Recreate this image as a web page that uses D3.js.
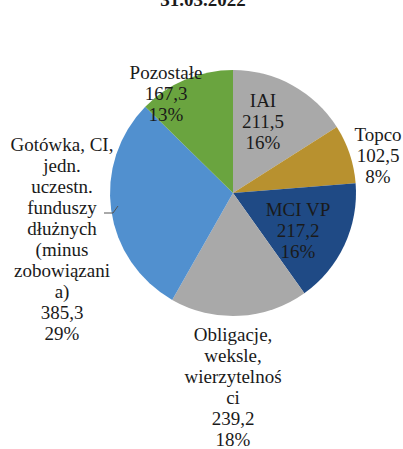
<!DOCTYPE html>
<html>
<head>
<meta charset="utf-8">
<script src="https://cdn.jsdelivr.net/npm/d3@7"></script>
<style>
  body { margin: 0; background: #fff; }
</style>
</head>
<body>
<div id="chart"></div>
<script>
// data
var title = "31.03.2022";
var categories = [
  ["IAI"],
  ["Topco"],
  ["MCI VP"],
  ["Obligacje,", "weksle,", "wierzytelnoś", "ci"],
  ["Gotówka, CI,", "jedn.", "uczestn.", "funduszy", "dłużnych", "(minus", "zobowiązani", "a)"],
  ["Pozostałe"]
];
var values = [211.5, 102.5, 217.2, 239.2, 385.3, 167.3];
var colors = ["#a9a9a9", "#b8912f", "#1f4a85", "#a9a9a9", "#5190cf", "#6aa43f"];

// label block positions relative to pie centre (first line)
var labelPos = [[30, -92], [145, -58], [65, 17], [0, 142], [-171, -48], [-67, -120]];

var width = 403, height = 449;
var cx = 233, cy = 193, radius = 123, lineH = 21;
var font = "'Liberation Serif', 'DejaVu Serif', serif";

var svg = d3.select("#chart")
  .append("svg")
    .attr("width", width)
    .attr("height", height)
    .attr("font-family", font);

svg.append("text")
  .attr("x", 203)
  .attr("y", 6)
  .attr("text-anchor", "middle")
  .attr("font-family", font)
  .attr("font-size", 19)
  .attr("font-weight", "bold")
  .attr("fill", "#1a1a1a")
  .text(title);

var pie = d3.pie().sort(null).value(function(d) { return d; });
var arcs = pie(values);
var total = d3.sum(values);

var arc = d3.arc().innerRadius(0).outerRadius(radius);

var g = svg.append("g")
  .attr("transform", "translate(" + cx + "," + cy + ")");

g.selectAll("path")
  .data(arcs)
  .enter()
  .append("path")
    .attr("d", arc)
    .style("fill", function(d, i) { return colors[i]; });

var fmt = function(v) { return d3.format(".1f")(v).replace(".", ","); };

var labels = g.selectAll("text.lbl")
  .data(arcs)
  .enter()
  .append("text")
    .attr("class", "lbl")
    .attr("text-anchor", "middle")
    .attr("font-family", font)
    .attr("font-size", 19)
    .attr("fill", "#1a1a1a")
    .attr("transform", function(d, i) {
      return "translate(" + labelPos[i][0] + "," + (labelPos[i][1] + 6) + ")";
    });

labels.each(function(d, i) {
  var lines = categories[i].concat([fmt(d.value), Math.round(d.value / total * 100) + "%"]);
  d3.select(this).selectAll("tspan")
    .data(lines)
    .enter()
    .append("tspan")
      .attr("x", 0)
      .attr("y", function(l, j) { return j * lineH; })
      .text(function(l) { return l; });
});

// leader line for the Gotówka label
g.append("polyline")
  .attr("points", [[-129, 20], [-120, 20], [-115, 13]].join(" "))
  .style("fill", "none")
  .style("stroke", "#555")
  .style("stroke-width", 1);
</script>
</body>
</html>
